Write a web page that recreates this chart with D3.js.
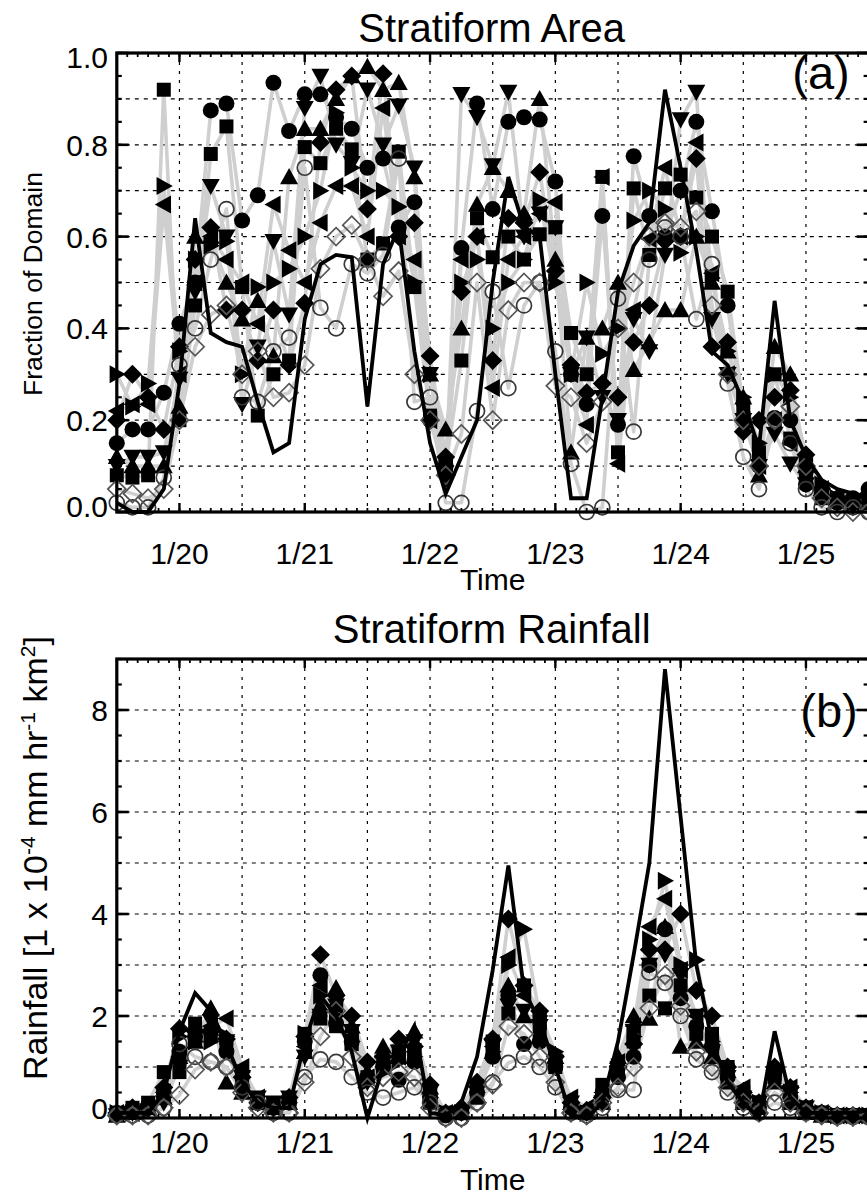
<!DOCTYPE html>
<html><head><meta charset="utf-8">
<script src="https://cdn.jsdelivr.net/npm/d3@7"></script>
<style>
body{margin:0;background:#fff}
svg{display:block}
text{font-family:"Liberation Sans",Arial,Helvetica,sans-serif;fill:#000}
</style>
</head><body>
<svg id="chart" width="867" height="1195"></svg>
<script>
// ---------- DATA ----------
// hours after 1/19 12:00 (3-hourly samples)
const hours = [0,3,6,9,12,15,18,21,24,27,30,33,36,39,42,45,48,51,54,57,60,63,66,69,72,75,78,81,84,87,90,93,96,99,102,105,108,111,114,117,120,123,126,129,132,135,138,141,144];
const dayTicks = [20,21,22,23,24,25];
const dayLabels = ["1/20","1/21","1/22","1/23","1/24","1/25"];
const areaTickVals = [0,0.2,0.4,0.6,0.8,1.0];
const areaTickLabels = ["0.0","0.2","0.4","0.6","0.8","1.0"];
const rainTickVals = [0,2,4,6,8];
const rainTickLabels = ["0","2","4","6","8"];

// Panel (a): stratiform area fraction
const areaObs      = [0.02,0.00,0.00,0.05,0.28,0.64,0.39,0.37,0.36,0.24,0.13,0.15,0.42,0.54,0.56,0.555,0.23,0.54,0.62,0.35,0.15,0.04,0.12,0.20,0.50,0.73,0.62,0.60,0.30,0.03,0.03,0.25,0.48,0.58,0.63,0.92,0.75,0.57,0.35,0.32,0.24,0.14,0.46,0.20,0.12,0.07,0.05,0.04,0.03];
const areaSquare   = [0.08,0.075,0.08,0.92,0.20,0.45,0.78,0.84,0.49,0.21,0.30,0.33,0.795,0.76,0.835,0.79,0.55,0.585,0.785,0.49,0.21,0.10,0.33,0.64,0.555,0.60,0.55,0.605,0.62,0.39,0.30,0.73,0.13,0.705,0.56,0.705,0.735,0.685,0.60,0.48,0.23,0.13,0.30,0.16,0.08,0.03,0.03,0.02,0.03];
const areaCircle   = [0.15,0.18,0.18,0.26,0.41,0.50,0.875,0.89,0.635,0.69,0.935,0.83,0.91,0.91,0.86,0.835,0.75,0.77,0.62,0.675,0.20,0.10,0.575,0.89,0.66,0.85,0.86,0.855,0.72,0.30,0.235,0.645,0.19,0.775,0.645,0.60,0.70,0.85,0.655,0.45,0.20,0.10,0.205,0.20,0.06,0.04,0.02,0.03,0.05];
const areaTriUp    = [0.12,0.10,0.10,0.10,0.23,0.60,0.60,0.50,0.42,0.46,0.34,0.73,0.835,0.835,0.90,0.95,0.97,0.92,0.935,0.73,0.30,0.18,0.40,0.67,0.75,0.70,0.65,0.90,0.55,0.13,0.38,0.40,0.50,0.31,0.37,0.44,0.44,0.60,0.50,0.35,0.25,0.08,0.36,0.30,0.10,0.05,0.03,0.02,0.02];
const areaTriDown  = [0.10,0.12,0.12,0.13,0.29,0.48,0.71,0.60,0.235,0.36,0.59,0.43,0.88,0.95,0.80,0.76,0.92,0.80,0.885,0.75,0.30,0.07,0.91,0.86,0.755,0.915,0.60,0.65,0.62,0.30,0.38,0.25,0.20,0.42,0.35,0.56,0.855,0.915,0.42,0.30,0.20,0.10,0.17,0.105,0.06,0.04,0.02,0.01,0.02];
const areaDiamond  = [0.20,0.30,0.25,0.18,0.36,0.55,0.62,0.44,0.44,0.33,0.44,0.32,0.455,0.805,0.92,0.95,0.66,0.955,0.60,0.63,0.34,0.12,0.48,0.60,0.33,0.64,0.63,0.74,0.525,0.32,0.26,0.28,0.25,0.37,0.45,0.59,0.60,0.77,0.36,0.37,0.175,0.20,0.25,0.265,0.125,0.05,0.03,0.02,0.04];
const areaTriLeft  = [0.22,0.235,0.235,0.67,0.30,0.50,0.60,0.55,0.50,0.41,0.67,0.57,0.50,0.63,0.71,0.71,0.60,0.88,0.60,0.55,0.20,0.10,0.55,0.60,0.27,0.55,0.60,0.65,0.675,0.30,0.19,0.73,0.105,0.44,0.595,0.75,0.60,0.805,0.52,0.30,0.20,0.10,0.20,0.15,0.10,0.05,0.03,0.02,0.02];
const areaTriRight = [0.30,0.23,0.28,0.71,0.35,0.55,0.58,0.59,0.30,0.49,0.50,0.53,0.60,0.70,0.87,0.75,0.70,0.70,0.665,0.50,0.30,0.10,0.50,0.55,0.40,0.50,0.55,0.68,0.50,0.30,0.50,0.345,0.40,0.635,0.70,0.66,0.565,0.60,0.51,0.35,0.25,0.15,0.30,0.25,0.10,0.06,0.03,0.02,0.02];
const areaOpenCirc = [0.02,0.01,0.01,0.075,0.32,0.40,0.55,0.66,0.25,0.24,0.35,0.38,0.75,0.445,0.40,0.54,0.52,0.56,0.77,0.24,0.25,0.02,0.02,0.22,0.48,0.27,0.45,0.50,0.35,0.105,0.00,0.01,0.465,0.175,0.55,0.62,0.60,0.42,0.54,0.28,0.12,0.05,0.20,0.15,0.05,0.01,0.00,0.01,0.00];
const areaOpenDiam = [0.05,0.04,0.03,0.05,0.20,0.36,0.43,0.45,0.30,0.35,0.25,0.26,0.32,0.53,0.60,0.625,0.55,0.47,0.525,0.30,0.20,0.08,0.17,0.50,0.20,0.44,0.50,0.50,0.275,0.25,0.15,0.24,0.40,0.50,0.60,0.63,0.62,0.655,0.45,0.30,0.20,0.10,0.20,0.23,0.10,0.03,0.01,0.00,0.00];

// Panel (b): stratiform rainfall
const rainObs      = [0.1,0.1,0.1,0.5,1.7,2.45,2.1,1.45,0.7,0.3,0.2,0.2,1.5,2.4,2.0,1.3,0.0,1.0,1.2,1.8,0.1,0.05,0.3,1.2,2.9,4.95,2.5,1.9,1.0,0.05,0.0,0.3,1.5,3.2,5.0,8.8,5.9,3.0,1.5,0.7,0.3,0.0,1.7,0.4,0.1,0.1,0.1,0.1,0.15];
const rainSquare   = [0.1,0.2,0.3,0.9,0.9,1.85,1.6,1.4,0.8,0.3,0.2,0.3,1.65,1.95,1.8,1.45,0.8,1.0,1.3,1.2,0.3,0.05,0.1,0.6,1.5,2.05,2.6,1.7,1.0,0.3,0.1,0.65,0.9,1.5,2.4,2.15,2.6,1.65,1.65,1.0,0.5,0.3,0.8,0.5,0.2,0.1,0.05,0.05,0.05];
const rainCircle   = [0.1,0.15,0.2,0.5,1.3,1.6,1.7,1.3,0.6,0.3,0.2,0.3,1.5,2.8,1.85,1.5,0.8,1.0,0.75,1.1,0.4,0.05,0.1,0.5,1.2,2.4,1.45,1.5,1.0,0.2,0.1,0.4,0.8,1.2,3.0,3.7,2.35,1.8,1.4,0.8,0.4,0.2,0.9,0.4,0.15,0.1,0.05,0.05,0.05];
const rainTriUp    = [0.05,0.1,0.2,0.4,1.2,1.5,2.15,0.7,0.5,0.3,0.2,0.3,1.3,2.2,2.55,1.8,0.9,1.4,1.2,1.7,0.6,0.1,0.1,0.4,1.3,2.6,2.0,1.6,1.2,0.3,0.1,0.3,1.2,2.0,1.95,3.75,1.4,1.5,1.2,0.7,0.3,0.2,0.7,0.3,0.1,0.05,0.05,0.05,0.05];
const rainTriDown  = [0.05,0.1,0.15,0.3,1.0,1.6,1.9,1.5,0.8,0.4,0.3,0.4,1.2,2.0,2.2,1.7,0.7,1.1,1.3,1.5,0.5,0.1,0.1,0.5,1.4,2.2,2.1,1.8,1.1,0.3,0.1,0.3,0.9,1.7,3.0,3.2,2.8,2.0,1.3,0.8,0.4,0.3,0.8,0.5,0.2,0.1,0.05,0.05,0.05];
const rainDiamond  = [0.1,0.2,0.2,0.6,1.75,1.7,1.7,1.55,0.8,0.3,0.2,0.4,1.6,3.2,2.4,2.0,1.1,1.2,1.55,1.4,0.65,0.1,0.2,0.7,1.55,3.9,2.6,2.1,1.2,0.3,0.15,0.4,1.0,1.45,3.3,3.3,4.0,2.5,2.0,1.0,0.5,0.3,1.0,0.6,0.2,0.1,0.05,0.05,0.05];
const rainTriLeft  = [0.1,0.1,0.2,0.5,1.2,1.6,1.8,1.95,1.0,0.4,0.2,0.3,1.4,2.6,2.2,1.6,0.8,1.0,1.2,1.3,0.5,0.1,0.1,0.6,1.4,3.15,2.4,1.9,1.1,0.4,0.2,0.5,1.1,1.8,3.75,4.3,2.9,2.0,1.4,0.9,0.6,0.3,0.9,0.6,0.2,0.1,0.05,0.05,0.05];
const rainTriRight = [0.1,0.1,0.15,0.4,1.6,1.5,1.5,1.6,0.9,0.3,0.2,0.3,1.65,2.4,2.0,1.5,0.7,0.9,1.1,1.2,0.4,0.1,0.1,0.5,1.3,3.0,3.7,2.0,1.3,0.3,0.1,0.4,1.0,1.6,3.5,4.65,3.0,3.1,1.5,0.8,0.4,0.3,0.9,0.5,0.2,0.1,0.05,0.05,0.05];
const rainOpenCirc = [0.05,0.05,0.05,0.2,1.45,1.2,1.1,1.0,0.6,0.3,0.1,0.1,0.8,1.15,1.1,0.8,0.5,0.4,0.5,0.6,0.3,0.0,0.0,0.3,0.7,1.08,1.2,1.0,0.6,0.1,0.05,0.2,0.55,0.55,2.85,2.65,2.0,1.15,0.9,0.5,0.2,0.1,0.3,0.2,0.1,0.05,0.02,0.02,0.02];
const rainOpenDiam = [0.05,0.05,0.05,0.2,0.45,0.95,1.1,1.0,0.5,0.2,0.1,0.1,0.7,1.6,2.1,1.2,0.6,0.8,0.9,0.8,0.2,0.0,0.0,0.3,0.65,1.8,1.65,1.2,0.7,0.1,0.05,0.3,0.6,1.0,2.15,2.8,2.2,1.3,1.0,0.6,0.3,0.1,0.5,0.3,0.1,0.05,0.02,0.02,0.02];

const markerKinds = ["square","circle","triUp","triDown","diamond","triLeft","triRight","openCircle","openDiamond"];
const areaModels = [areaSquare,areaCircle,areaTriUp,areaTriDown,areaDiamond,areaTriLeft,areaTriRight,areaOpenCirc,areaOpenDiam];
const rainModels = [rainSquare,rainCircle,rainTriUp,rainTriDown,rainDiamond,rainTriLeft,rainTriRight,rainOpenCirc,rainOpenDiam];

// ---------- DRAWING ----------
const svg = d3.select("#chart");
const times = hours.map(h => 19.5 + h/24);
const x = d3.scaleLinear().domain([19.5, 25.5]).range([116.8, 868.6]);

function markerPath(kind){
  const s = 9;
  switch(kind){
    case "square": return `M-7,-7h14v14h-14Z`;
    case "circle": return `M-8,0a8,8 0 1,0 16,0a8,8 0 1,0 -16,0Z`;
    case "openCircle": return `M-7.5,0a7.5,7.5 0 1,0 15,0a7.5,7.5 0 1,0 -15,0Z`;
    case "triUp": return `M0,${-s}L${s},${s*0.8}L${-s},${s*0.8}Z`;
    case "triDown": return `M0,${s}L${s},${-s*0.8}L${-s},${-s*0.8}Z`;
    case "triLeft": return `M${-s},0L${s*0.8},${-s}L${s*0.8},${s}Z`;
    case "triRight": return `M${s},0L${-s*0.8},${-s}L${-s*0.8},${s}Z`;
    case "diamond": return `M0,-9.5L9.5,0L0,9.5L-9.5,0Z`;
    case "openDiamond": return `M0,-9L9,0L0,9L-9,0Z`;
  }
}

function drawPanel(cfg){
  const g = svg.append("g");
  const y = d3.scaleLinear().domain(cfg.yDomain).range([cfg.yBottom, cfg.yTop]);
  const xl = x.range()[0], xr = x.range()[1];
  const yt = cfg.yTop, yb = cfg.yBottom;

  // gridlines
  const vGrid = d3.range(20, 25.01, 0.5);
  g.selectAll(null).data(vGrid).enter().append("line")
    .attr("x1", d => x(d)).attr("x2", d => x(d)).attr("y1", yt).attr("y2", yb)
    .attr("stroke", "#000").attr("stroke-width", 1.2).attr("stroke-dasharray", "3,6");
  g.selectAll(null).data(cfg.hGrid).enter().append("line")
    .attr("x1", xl).attr("x2", xr).attr("y1", d => y(d)).attr("y2", d => y(d))
    .attr("stroke", "#000").attr("stroke-width", 1.2).attr("stroke-dasharray", "4,5");

  // model grey lines
  const line = d3.line().x((d,i) => x(times[i])).y(d => y(d));
  cfg.models.forEach(arr => {
    g.append("path").attr("d", line(arr)).attr("fill", "none")
      .attr("stroke", "#cfcfcf").attr("stroke-width", 3.6).attr("stroke-linejoin", "round");
  });
  // markers
  cfg.models.forEach((arr, si) => {
    const kind = markerKinds[si];
    const open = kind.startsWith("open");
    g.selectAll(null).data(arr).enter().append("path")
      .attr("transform", (d,i) => `translate(${x(times[i])},${y(d)})`)
      .attr("d", markerPath(kind))
      .attr("fill", open ? "none" : "#000")
      .attr("stroke", open ? (kind === "openCircle" ? "#383838" : "#555") : "none")
      .attr("stroke-width", 1.7);
  });
  // observed line
  g.append("path").attr("d", line(cfg.obs)).attr("fill", "none")
    .attr("stroke", "#000").attr("stroke-width", 3.8).attr("stroke-linejoin", "miter");

  // frame
  g.append("rect").attr("x", xl).attr("y", yt).attr("width", xr - xl).attr("height", yb - yt)
    .attr("fill", "none").attr("stroke", "#000").attr("stroke-width", 3.2);

  // x ticks (inward, top and bottom)
  const minorX = d3.range(19.5, 25.51, 1/12);
  minorX.forEach(d => {
    [[yb, -4],[yt, 4]].forEach(([yy, len]) => {
      g.append("line").attr("x1", x(d)).attr("x2", x(d)).attr("y1", yy).attr("y2", yy + len)
        .attr("stroke", "#000").attr("stroke-width", 1.8);
    });
  });
  dayTicks.forEach(d => {
    [[yb, -9],[yt, 9]].forEach(([yy, len]) => {
      g.append("line").attr("x1", x(d)).attr("x2", x(d)).attr("y1", yy).attr("y2", yy + len)
        .attr("stroke", "#000").attr("stroke-width", 2.4);
    });
  });
  // y ticks (inward, left and right)
  cfg.minorY.forEach(d => {
    [[xl, 5],[xr, -5]].forEach(([xx, len]) => {
      g.append("line").attr("y1", y(d)).attr("y2", y(d)).attr("x1", xx).attr("x2", xx + len)
        .attr("stroke", "#000").attr("stroke-width", 2.2);
    });
  });
  cfg.majorY.forEach(d => {
    [[xl, 12],[xr, -12]].forEach(([xx, len]) => {
      g.append("line").attr("y1", y(d)).attr("y2", y(d)).attr("x1", xx).attr("x2", xx + len)
        .attr("stroke", "#000").attr("stroke-width", 2.6);
    });
  });

  // labels
  g.selectAll(null).data(dayTicks).enter().append("text")
    .attr("x", d => x(d)).attr("y", cfg.xLabelY).attr("text-anchor", "middle")
    .attr("font-size", 30).text((d,i) => dayLabels[i]);
  g.append("text").attr("x", (xl + xr)/2).attr("y", cfg.timeY).attr("text-anchor", "middle")
    .attr("font-size", 30).text("Time");
  g.selectAll(null).data(cfg.majorY).enter().append("text")
    .attr("x", 108).attr("y", (d,i) => y(d) + 11 + cfg.labelShift[i]).attr("text-anchor", "end")
    .attr("font-size", 30).text((d,i) => cfg.yLabels[i]);
  g.append("text").attr("x", (xl + xr)/2 - 1).attr("y", cfg.titleY).attr("text-anchor", "middle")
    .attr("font-size", 40).text(cfg.title);
  g.append("text").attr("x", cfg.tagX).attr("y", cfg.tagY).attr("text-anchor", "middle")
    .attr("font-size", 47).text(cfg.tag);
  const yl = g.append("text").attr("transform", `translate(${cfg.yTitleX},${cfg.yTitleY}) rotate(-90)`)
    .attr("text-anchor", "middle").attr("font-size", cfg.yTitleSize);
  cfg.yTitle(yl);
}

drawPanel({
  yDomain: [0, 1], yTop: 53, yBottom: 512,
  hGrid: [0.1,0.2,0.3,0.4,0.5,0.6,0.7,0.8,0.9],
  minorY: d3.range(0, 1.001, 0.05),
  majorY: areaTickVals, yLabels: areaTickLabels, labelShift: [-6,0,0,0,0,4],
  models: areaModels, obs: areaObs,
  xLabelY: 564, timeY: 590, titleY: 42, title: "Stratiform Area",
  tag: "(a)", tagX: 821, tagY: 89,
  yTitleX: 42, yTitleY: 284, yTitleSize: 26.5,
  yTitle: t => t.text("Fraction of Domain")
});

drawPanel({
  yDomain: [0, 9], yTop: 659, yBottom: 1118,
  hGrid: [1,2,3,4,5,6,7,8],
  minorY: d3.range(0, 9.001, 0.5),
  majorY: rainTickVals, yLabels: rainTickLabels, labelShift: [-10,0,0,0,0],
  models: rainModels, obs: rainObs,
  xLabelY: 1153, timeY: 1190, titleY: 643, title: "Stratiform Rainfall",
  tag: "(b)", tagX: 829, tagY: 727,
  yTitleX: 47, yTitleY: 858, yTitleSize: 34,
  yTitle: t => {
    t.append("tspan").text("Rainfall [1 x 10");
    t.append("tspan").attr("dy", -12).attr("font-size", 21).text("-4");
    t.append("tspan").attr("dy", 12).text(" mm hr");
    t.append("tspan").attr("dy", -12).attr("font-size", 21).text("-1");
    t.append("tspan").attr("dy", 12).text(" km");
    t.append("tspan").attr("dy", -12).attr("font-size", 21).text("2");
    t.append("tspan").attr("dy", 12).text("]");
  }
});
</script>
</body></html>
